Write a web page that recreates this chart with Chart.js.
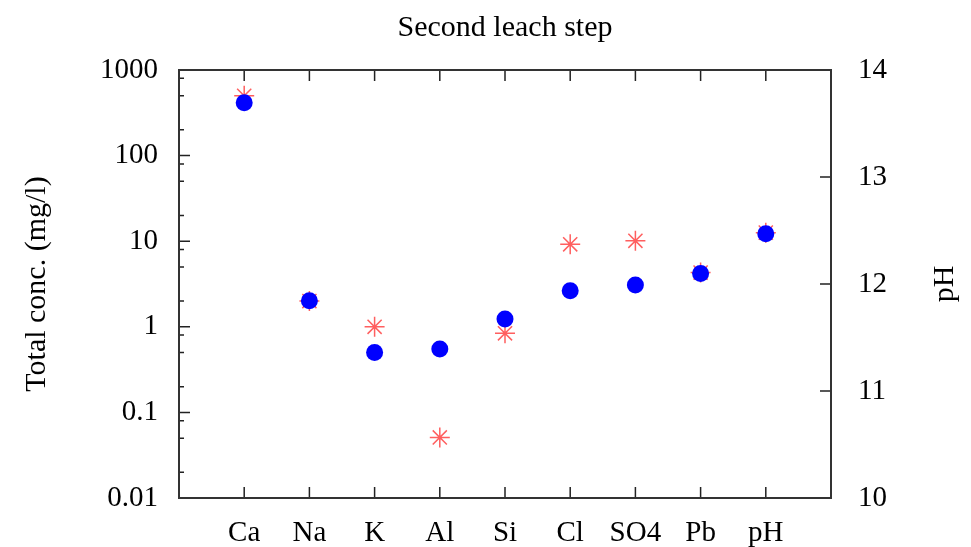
<!DOCTYPE html>
<html>
<head>
<meta charset="utf-8">
<title>Second leach step</title>
<script src="https://cdn.jsdelivr.net/npm/chart.js@4.4.0/dist/chart.umd.min.js"></script>
<style>
  body { margin: 0; background: #fff; }
  #wrap { width: 971px; height: 547px; }
</style>
</head>
<body>
<div id="wrap"><canvas id="leachChart"></canvas></div>
<script>
// data
const categories = ['Ca', 'Na', 'K', 'Al', 'Si', 'Cl', 'SO4', 'Pb', 'pH'];
const measuredConc = [500, 2.0, 1.0, 0.051, 0.84, 9.2, 10.1, 4.3];   // mg/l, red stars (Ca..Pb)
const modelConc = [415, 2.02, 0.50, 0.55, 1.23, 2.64, 3.08, 4.2];     // mg/l, blue dots (Ca..Pb)
const measuredPH = [12.48];
const modelPH = [12.47];

const yTickValues = [0.01, 0.1, 1, 10, 100, 1000];
const minorMultipliers = [2, 5, 8];
const y2TickValues = [10, 11, 12, 13, 14];
const xTickValues = categories.map((_, i) => i + 1);

const FONT = "'Liberation Serif', 'Times New Roman', serif";

function concPoints(values) {
    return values.map((v, i) => ({ x: i + 1, y: v }));
}
function phPoints(values) {
    return values.map(v => ({ x: categories.indexOf('pH') + 1, y: v }));
}

// gnuplot style frame with inward ticks + pH label reading upwards
const frameTicks = {
    id: 'frameTicks',
    afterDraw(chart) {
        const { ctx, chartArea: a, scales } = chart;
        ctx.save();
        ctx.strokeStyle = '#222';
        ctx.lineWidth = 1.5;
        ctx.beginPath();
        const seg = (x1, y1, x2, y2) => { ctx.moveTo(x1, y1); ctx.lineTo(x2, y2); };

        xTickValues.forEach(v => {
            const px = scales.x.getPixelForValue(v);
            seg(px, a.bottom, px, a.bottom - 11);
            seg(px, a.top, px, a.top + 11);
        });
        yTickValues.forEach(v => {
            const py = scales.y.getPixelForValue(v);
            seg(a.left, py, a.left + 11, py);
        });
        yTickValues.slice(0, -1).forEach(v => {
            minorMultipliers.forEach(m => {
                const py = scales.y.getPixelForValue(v * m);
                seg(a.left, py, a.left + 5, py);
            });
        });
        y2TickValues.forEach(v => {
            const py = scales.y2.getPixelForValue(v);
            seg(a.right, py, a.right - 11, py);
        });
        ctx.stroke();

        ctx.lineWidth = 2;
        ctx.strokeStyle = '#333';
        ctx.strokeRect(a.left, a.top, a.right - a.left, a.bottom - a.top);

        ctx.fillStyle = '#000';
        ctx.font = '30px ' + FONT;
        ctx.textAlign = 'center';
        ctx.textBaseline = 'middle';
        ctx.translate(945, (a.top + a.bottom) / 2);
        ctx.rotate(-Math.PI / 2);
        ctx.fillText('pH', 0, 0);
        ctx.restore();
    }
};

const starColor = 'rgba(255, 95, 95, 1)';
const dotColor = '#0000ff';

new Chart(document.getElementById('leachChart'), {
    type: 'scatter',
    data: {
        datasets: [
            {
                label: 'Measured',
                data: concPoints(measuredConc),
                yAxisID: 'y',
                pointStyle: 'star',
                pointRadius: 10,
                borderColor: starColor,
                backgroundColor: starColor,
                borderWidth: 1.5,
                order: 2
            },
            {
                label: 'Model',
                data: concPoints(modelConc),
                yAxisID: 'y',
                pointStyle: 'circle',
                pointRadius: 8.5,
                borderWidth: 0,
                backgroundColor: dotColor,
                borderColor: dotColor,
                order: 1
            },
            {
                label: 'Measured pH',
                data: phPoints(measuredPH),
                yAxisID: 'y2',
                pointStyle: 'star',
                pointRadius: 10,
                borderColor: starColor,
                backgroundColor: starColor,
                borderWidth: 1.5,
                order: 2
            },
            {
                label: 'Model pH',
                data: phPoints(modelPH),
                yAxisID: 'y2',
                pointStyle: 'circle',
                pointRadius: 8.5,
                borderWidth: 0,
                backgroundColor: dotColor,
                borderColor: dotColor,
                order: 1
            }
        ]
    },
    options: {
        responsive: true,
        maintainAspectRatio: false,
        animation: false,
        layout: { padding: 0 },
        plugins: {
            legend: { display: false },
            tooltip: { enabled: false },
            title: {
                display: true,
                fullSize: false,
                text: 'Second leach step',
                color: '#000',
                font: { family: FONT, size: 30, weight: 'normal' },
                padding: { top: 10, bottom: 24 }
            }
        },
        scales: {
            x: {
                type: 'linear',
                min: 0,
                max: 10,
                afterBuildTicks: s => { s.ticks = xTickValues.map(v => ({ value: v })); },
                afterFit: s => { s.height = 49; },
                ticks: {
                    color: '#000',
                    font: { family: FONT, size: 29 },
                    padding: 10,
                    maxRotation: 0,
                    autoSkip: false,
                    callback: v => categories[v - 1]
                },
                grid: { display: false },
                border: { display: false }
            },
            y: {
                type: 'logarithmic',
                position: 'left',
                min: 0.01,
                max: 1000,
                afterBuildTicks: s => { s.ticks = yTickValues.map(v => ({ value: v })); },
                afterFit: s => { s.width = 179; },
                ticks: {
                    color: '#000',
                    font: { family: FONT, size: 29 },
                    padding: 13,
                    callback: v => String(v)
                },
                title: {
                    display: true,
                    text: 'Total conc. (mg/l)',
                    color: '#000',
                    font: { family: FONT, size: 30 },
                    padding: { top: 19, bottom: 0 }
                },
                grid: { display: false },
                border: { display: false }
            },
            y2: {
                type: 'linear',
                position: 'right',
                min: 10,
                max: 14,
                afterBuildTicks: s => { s.ticks = y2TickValues.map(v => ({ value: v })); },
                afterFit: s => { s.width = 140; },
                ticks: {
                    color: '#000',
                    font: { family: FONT, size: 29 },
                    padding: 19
                },
                grid: { display: false },
                border: { display: false }
            }
        }
    },
    plugins: [frameTicks]
});
</script>
</body>
</html>
